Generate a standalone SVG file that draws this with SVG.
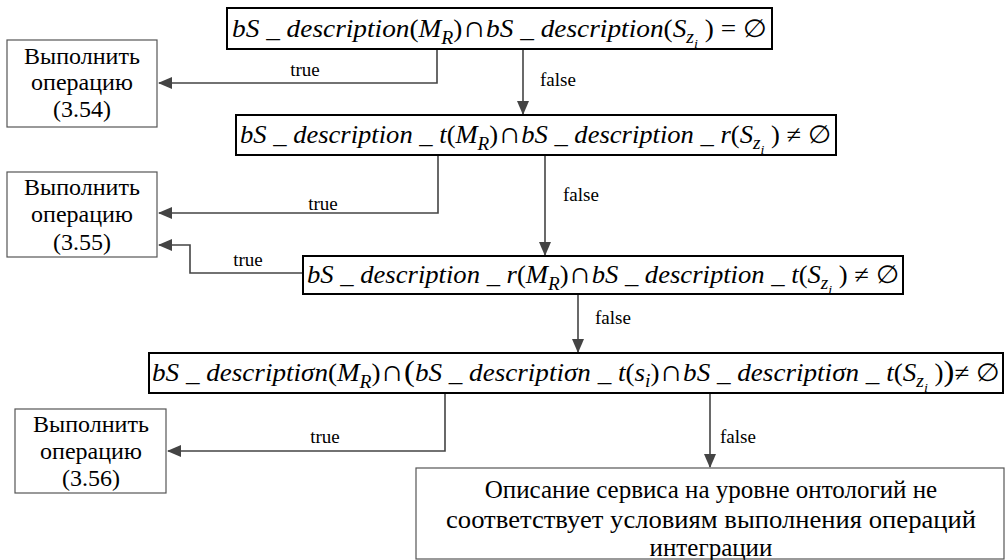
<svg xmlns="http://www.w3.org/2000/svg" width="1006" height="560" viewBox="0 0 1006 560">
<style>
.fb{fill:#fff;stroke:#000;stroke-width:2}
.ab{fill:#fff;stroke:#555;stroke-width:1.2}
text{font-family:"Liberation Serif","Liberation Sans",sans-serif;fill:#000}
.f{font-size:25px}
.i{font-style:italic}
.s1{font-size:18px;font-style:italic}
.s2{font-size:13px;font-style:italic}
.op{font-size:30px}
.c{stroke:#444;stroke-width:1.6;fill:none;marker-end:url(#ah)}
.lbl{font-size:19px}
.at{font-size:24px;text-anchor:middle}
.rt{font-size:25px;text-anchor:middle}
</style>
<defs>
<marker id="ah" markerUnits="userSpaceOnUse" markerWidth="14" markerHeight="12" viewBox="0 0 14 12" refX="13" refY="6" orient="auto">
<path d="M0,0 L14,6 L0,12 Z" fill="#444"/>
</marker>
</defs>
<rect width="1006" height="560" fill="#fff"/>

<g id="connectors">
<path class="c" d="M437,49 V83 H159"/>
<path class="c" d="M523,49 V114"/>
<path class="c" d="M438,155 V213 H159"/>
<path class="c" d="M545,155 V255"/>
<path class="c" d="M303,273 H190 V245 H159"/>
<path class="c" d="M578,294 V352"/>
<path class="c" d="M445,393 V451 H168"/>
<path class="c" d="M710,393 V467"/>
<text class="lbl" x="305" y="76" text-anchor="middle">true</text>
<text class="lbl" x="540" y="86">false</text>
<text class="lbl" x="323" y="210" text-anchor="middle">true</text>
<text class="lbl" x="563" y="201">false</text>
<text class="lbl" x="248" y="266" text-anchor="middle">true</text>
<text class="lbl" x="595" y="324">false</text>
<text class="lbl" x="325" y="443" text-anchor="middle">true</text>
<text class="lbl" x="720" y="443">false</text>
</g>

<g id="cond1">
<rect class="fb" x="227" y="8" width="545" height="41"/>
<text class="f" x="232" y="37" textLength="535" lengthAdjust="spacingAndGlyphs"><tspan class="i">bS _ description</tspan>(<tspan class="i">M</tspan><tspan class="s1" dy="7">R</tspan><tspan dy="-7">)</tspan><tspan class="op">∩</tspan><tspan class="i">bS _ description</tspan>(<tspan class="i">S</tspan><tspan class="s1" dy="6">z</tspan><tspan class="s2" dy="5">i</tspan><tspan dy="-11"> ) = ∅</tspan></text>
</g>

<g id="cond2">
<rect class="fb" x="236" y="115" width="600" height="40"/>
<text class="f" x="240" y="143" textLength="591" lengthAdjust="spacingAndGlyphs"><tspan class="i">bS _ description _ t</tspan>(<tspan class="i">M</tspan><tspan class="s1" dy="7">R</tspan><tspan dy="-7">)</tspan><tspan class="op">∩</tspan><tspan class="i">bS _ description _ r</tspan>(<tspan class="i">S</tspan><tspan class="s1" dy="6">z</tspan><tspan class="s2" dy="5">i</tspan><tspan dy="-11"> ) ≠ ∅</tspan></text>
</g>

<g id="cond3">
<rect class="fb" x="303" y="256" width="600" height="38"/>
<text class="f" x="307" y="283" textLength="592" lengthAdjust="spacingAndGlyphs"><tspan class="i">bS _ description _ r</tspan>(<tspan class="i">M</tspan><tspan class="s1" dy="7">R</tspan><tspan dy="-7">)</tspan><tspan class="op">∩</tspan><tspan class="i">bS _ description _ t</tspan>(<tspan class="i">S</tspan><tspan class="s1" dy="6">z</tspan><tspan class="s2" dy="5">i</tspan><tspan dy="-11"> ) ≠ ∅</tspan></text>
</g>

<g id="cond4">
<rect class="fb" x="149" y="353" width="854" height="40"/>
<text class="f" x="152" y="381" textLength="848" lengthAdjust="spacingAndGlyphs"><tspan class="i">bS _ descriptiσn</tspan>(<tspan class="i">M</tspan><tspan class="s1" dy="7">R</tspan><tspan dy="-7">)</tspan><tspan class="op">∩</tspan><tspan class="op">(</tspan><tspan class="i">bS _ descriptiσn _ t</tspan>(<tspan class="i">s</tspan><tspan class="s1" dy="6">i</tspan><tspan dy="-6">)</tspan><tspan class="op">∩</tspan><tspan class="i">bS _ descriptiσn _ t</tspan>(<tspan class="i">S</tspan><tspan class="s1" dy="6">z</tspan><tspan class="s2" dy="5">i</tspan><tspan dy="-11"> )</tspan><tspan class="op">)</tspan>≠ ∅</text>
</g>

<g id="act1">
<rect class="ab" x="7" y="40" width="150" height="87"/>
<text class="at" x="82" y="64">Выполнить</text>
<text class="at" x="82" y="90">операцию</text>
<text class="at" x="82" y="117">(3.54)</text>
</g>

<g id="act2">
<rect class="ab" x="7" y="172" width="150" height="85"/>
<text class="at" x="82" y="195">Выполнить</text>
<text class="at" x="82" y="222">операцию</text>
<text class="at" x="82" y="250">(3.55)</text>
</g>

<g id="act3">
<rect class="ab" x="15" y="409" width="151" height="84"/>
<text class="at" x="91" y="432">Выполнить</text>
<text class="at" x="91" y="459">операцию</text>
<text class="at" x="91" y="486">(3.56)</text>
</g>

<g id="result">
<rect class="ab" x="416" y="468" width="588" height="91"/>
<text class="rt" x="711" y="498">Описание сервиса на уровне онтологий не</text>
<text class="rt" x="711" y="528" textLength="530" lengthAdjust="spacingAndGlyphs">соответствует условиям выполнения операций</text>
<text class="rt" x="711" y="556">интеграции</text>
</g>
</svg>
